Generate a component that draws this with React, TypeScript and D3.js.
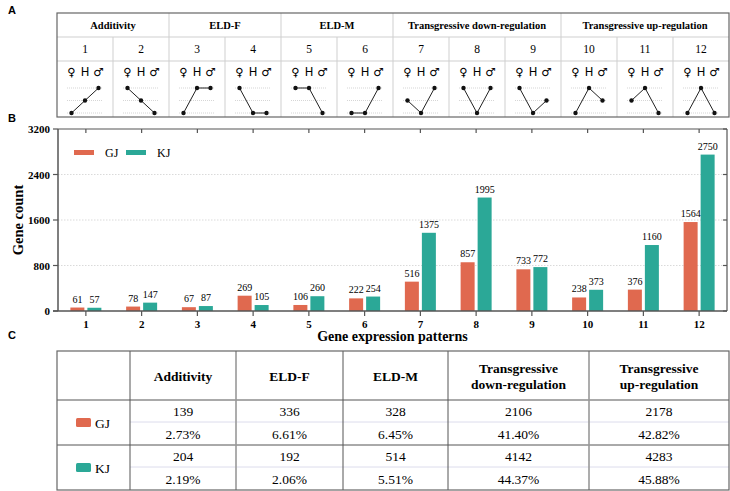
import React from "react";
import * as d3 from "d3";

const patterns = ["1","2","3","4","5","6","7","8","9","10","11","12"];
const gjValues = [61,78,67,269,106,222,516,857,733,238,376,1564];
const kjValues = [57,147,87,105,260,254,1375,1995,772,373,1160,2750];
const yTicks = [0,800,1600,2400,3200];
const groupNames = ["Additivity","ELD-F","ELD-M","Transgressive down-regulation","Transgressive up-regulation"];
const groupSpans = [2,2,2,3,3];
// levels for ♀, H, ♂ : 0 = high, 1 = mid, 2 = low
const patternLevels = [[2,1,0],[0,1,2],[2,0,0],[0,2,2],[0,0,2],[2,2,0],[1,2,0],[0,2,0],[0,2,1],[2,0,1],[1,0,2],[2,0,2]];
const tableHeaders = [["Additivity"],["ELD-F"],["ELD-M"],["Transgressive","down-regulation"],["Transgressive","up-regulation"]];
const gjCounts = ["139","336","328","2106","2178"];
const gjPercents = ["2.73%","6.61%","6.45%","41.40%","42.82%"];
const kjCounts = ["204","192","514","4142","4283"];
const kjPercents = ["2.19%","2.06%","5.51%","44.37%","45.88%"];
const seriesNames = ["GJ","KJ"];

const GJ_COLOR = "#E0694F";
const KJ_COLOR = "#2BA897";
const SERIF = "'Liberation Serif', 'Times New Roman', serif";
const SANS = "'Liberation Sans', Arial, sans-serif";

export default function App() {
  const W = 730, H = 491;
  // Panel A
  const aLeft = 57, aRight = 729, aTop = 13, aH1 = 37, aH2 = 61, aBottom = 117;
  const colX = d3.scaleBand<string>().domain(patterns).range([aLeft, aRight]);
  const levelY = d3.scalePoint<number>().domain([0,1,2]).range([88,113]);
  const groupBounds: number[] = [];
  let acc = 0;
  groupSpans.forEach((s) => { groupBounds.push(acc); acc += s; });

  // Panel B
  const bLeft = 58, bRight = 727, bTop = 129, bBottom = 311;
  const x = d3.scaleBand<string>().domain(patterns).range([bLeft, bRight]);
  const y = d3.scaleLinear().domain([0, 3200]).range([bBottom, bTop]);
  const barW = 14, gap = 3;

  // Panel C
  const cCols = [57,130,236,343,448,589,729];
  const cRows = [351,400,422,445,467,490];

  return (
    <svg width={W} height={H} style={{ display: "block", position: "absolute", left: 0, top: 0 }}>
      <rect width={W} height={H} fill="#fff" />
      {/* panel labels */}
      <text x={8} y={14} fontFamily={SANS} fontWeight="bold" fontSize={11}>A</text>
      <text x={8} y={122} fontFamily={SANS} fontWeight="bold" fontSize={11}>B</text>
      <text x={8} y={339} fontFamily={SANS} fontWeight="bold" fontSize={11}>C</text>

      {/* ---------- Panel A ---------- */}
      <g>
        <line x1={aLeft} x2={aRight} y1={aH1} y2={aH1} stroke="#cfcfcf" />
        <line x1={aLeft} x2={aRight} y1={aH2} y2={aH2} stroke="#cfcfcf" />
        {patterns.map((p, i) => {
          if (i === 0) return null;
          const isGroup = groupBounds.includes(i);
          return (
            <line key={"v" + p} x1={colX(p)!} x2={colX(p)!} y1={isGroup ? aTop : aH1} y2={aBottom} stroke="#cfcfcf" />
          );
        })}
        {groupNames.map((g, gi) => {
          const start = groupBounds[gi];
          const x0 = colX(patterns[start])!;
          const x1 = colX(patterns[start + groupSpans[gi] - 1])! + colX.bandwidth();
          return (
            <text key={g} x={(x0 + x1) / 2} y={29} textAnchor="middle" fontFamily={SERIF} fontWeight="bold" fontSize={10.5}>{g}</text>
          );
        })}
        {patterns.map((p, i) => {
          const cx = colX(p)! + colX.bandwidth() / 2;
          const xs = [cx - 13.5, cx, cx + 13.5];
          const lv = patternLevels[i];
          const pts = lv.map((l, k) => [xs[k], levelY(l)!] as [number, number]);
          return (
            <g key={"pat" + p}>
              <text x={cx} y={53} textAnchor="middle" fontFamily={SERIF} fontSize={11.5}>{p}</text>
              <text x={xs[0]} y={76} textAnchor="middle" fontFamily="'DejaVu Sans', sans-serif" fontSize={11.5}>♀</text>
              <text x={xs[1]} y={76} textAnchor="middle" fontFamily="'DejaVu Sans', sans-serif" fontSize={11.5}>H</text>
              <text x={xs[2]} y={76} textAnchor="middle" fontFamily="'DejaVu Sans', sans-serif" fontSize={11.5}>♂</text>
              {[0,1,2].map((l) => (
                <line key={l} x1={cx - 18} x2={cx + 18} y1={levelY(l)!} y2={levelY(l)!} stroke="#bbb" strokeWidth={0.6} strokeDasharray="1,1" />
              ))}
              <path d={d3.line()(pts)!} fill="none" stroke="#222" strokeWidth={1} />
              {pts.map((pt, k) => (
                <circle key={k} cx={pt[0]} cy={pt[1]} r={2.2} fill="#111" />
              ))}
            </g>
          );
        })}
        <rect x={aLeft} y={aTop} width={aRight - aLeft} height={aBottom - aTop} fill="none" stroke="#666" strokeWidth={1.2} />
      </g>

      {/* ---------- Panel B ---------- */}
      <g>
        {yTicks.filter((t) => t > 0 && t < 3200).map((t) => (
          <line key={"g" + t} x1={bLeft} x2={bRight} y1={y(t)} y2={y(t)} stroke="#d0d0d0" strokeWidth={0.8} strokeDasharray="1.5,1.5" />
        ))}
        {patterns.map((p, i) => {
          const cx = x(p)! + x.bandwidth() / 2;
          const gx = cx - gap / 2 - barW;
          const kx = cx + gap / 2;
          return (
            <g key={"bar" + p}>
              <rect x={gx} y={y(gjValues[i])} width={barW} height={bBottom - y(gjValues[i])} fill={GJ_COLOR} />
              <rect x={kx} y={y(kjValues[i])} width={barW} height={bBottom - y(kjValues[i])} fill={KJ_COLOR} />
              <text x={gx + barW / 2} y={y(gjValues[i]) - 5} textAnchor="middle" fontFamily={SERIF} fontSize={10}>{gjValues[i]}</text>
              <text x={kx + barW / 2} y={y(kjValues[i]) - 5} textAnchor="middle" fontFamily={SERIF} fontSize={10}>{kjValues[i]}</text>
            </g>
          );
        })}
        {/* frame */}
        <line x1={bLeft} x2={bRight} y1={bTop} y2={bTop} stroke="#555" strokeWidth={1.2} />
        <line x1={bRight} x2={bRight} y1={bTop} y2={bBottom} stroke="#555" strokeWidth={1.2} />
        <line x1={bLeft} x2={bLeft} y1={bTop} y2={bBottom} stroke="#555" strokeWidth={1.5} />
        <line x1={bLeft - 5} x2={bRight} y1={bBottom} y2={bBottom} stroke="#555" strokeWidth={1.5} />
        {yTicks.map((t) => (
          <g key={"yt" + t}>
            <line x1={bLeft - 5} x2={bLeft} y1={y(t)} y2={y(t)} stroke="#555" strokeWidth={1.2} />
            <line x1={bRight - 4} x2={bRight} y1={y(t)} y2={y(t)} stroke="#555" strokeWidth={1.2} />
            <text x={bLeft - 8} y={y(t) + 4} textAnchor="end" fontFamily={SERIF} fontWeight="bold" fontSize={11}>{t}</text>
          </g>
        ))}
        {patterns.map((p) => {
          const cx = x(p)! + x.bandwidth() / 2;
          return (
            <g key={"xt" + p}>
              <line x1={cx} x2={cx} y1={bBottom} y2={bBottom + 5} stroke="#555" strokeWidth={1.2} />
              <line x1={cx} x2={cx} y1={bTop} y2={bTop + 4} stroke="#555" strokeWidth={1.2} />
              <text x={cx} y={328} textAnchor="middle" fontFamily={SERIF} fontWeight="bold" fontSize={11}>{p}</text>
            </g>
          );
        })}
        <text x={(bLeft + bRight) / 2} y={341} textAnchor="middle" fontFamily={SERIF} fontWeight="bold" fontSize={14}>Gene expression patterns</text>
        <text transform={`translate(23,${(bTop + bBottom) / 2}) rotate(-90)`} textAnchor="middle" fontFamily={SERIF} fontWeight="bold" fontSize={14.5}>Gene count</text>
        {/* legend */}
        <rect x={74} y={150} width={20} height={5} fill={GJ_COLOR} />
        <text x={105} y={157} fontFamily={SERIF} fontSize={12}>{seriesNames[0]}</text>
        <rect x={126} y={150} width={20} height={5} fill={KJ_COLOR} />
        <text x={157} y={157} fontFamily={SERIF} fontSize={12}>{seriesNames[1]}</text>
      </g>

      {/* ---------- Panel C ---------- */}
      <g>
        <line x1={cCols[1]} x2={cCols[6]} y1={cRows[2]} y2={cRows[2]} stroke="#dcdcec" />
        <line x1={cCols[1]} x2={cCols[6]} y1={cRows[4]} y2={cRows[4]} stroke="#dcdcec" />
        <line x1={cCols[0]} x2={cCols[6]} y1={cRows[1]} y2={cRows[1]} stroke="#555" />
        <line x1={cCols[0]} x2={cCols[6]} y1={cRows[3]} y2={cRows[3]} stroke="#555" />
        {cCols.slice(1, 6).map((cx, i) => (
          <line key={"cv" + i} x1={cx} x2={cx} y1={cRows[0]} y2={cRows[5]} stroke={i === 1 || i === 4 ? "#999" : "#555"} strokeWidth={i === 1 || i === 4 ? 1.6 : 1} />
        ))}
        <rect x={cCols[0]} y={cRows[0]} width={cCols[6] - cCols[0]} height={cRows[5] - cRows[0]} fill="none" stroke="#666" strokeWidth={1.2} />
        {tableHeaders.map((h, i) => {
          const cx = (cCols[i + 1] + cCols[i + 2]) / 2;
          const cy = (cRows[0] + cRows[1]) / 2;
          return (
            <text key={"th" + i} textAnchor="middle" fontFamily={SERIF} fontWeight="bold" fontSize={13.5}>
              {h.map((line, li) => (
                <tspan key={li} x={cx} y={cy + 5 + (li - (h.length - 1) / 2) * 16}>{line}</tspan>
              ))}
            </text>
          );
        })}
        {[gjCounts, gjPercents, kjCounts, kjPercents].map((row, ri) => (
          <g key={"row" + ri}>
            {row.map((v, ci) => (
              <text key={ci} x={(cCols[ci + 1] + cCols[ci + 2]) / 2} y={(cRows[ri + 1] + cRows[ri + 2]) / 2 + 5} textAnchor="middle" fontFamily={SERIF} fontSize={13.5}>{v}</text>
            ))}
          </g>
        ))}
        {[GJ_COLOR, KJ_COLOR].map((c, i) => {
          const cy = (cRows[1 + i * 2] + cRows[3 + i * 2]) / 2;
          return (
            <g key={"rl" + i}>
              <rect x={76} y={cy - 4.5} width={15} height={9} rx={1.5} fill={c} />
              <text x={95} y={cy + 5} fontFamily={SERIF} fontSize={13.5}>{seriesNames[i]}</text>
            </g>
          );
        })}
      </g>
    </svg>
  );
}
